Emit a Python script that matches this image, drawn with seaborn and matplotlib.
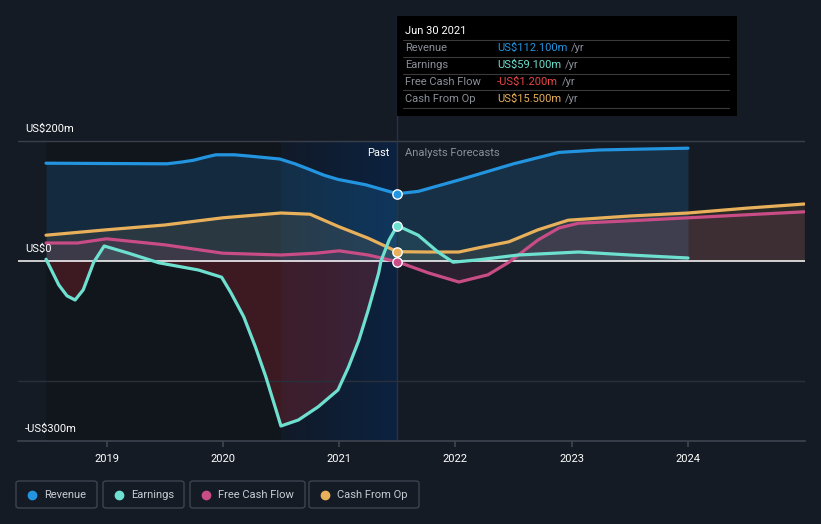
import numpy as np
import pandas as pd
import seaborn as sns
import matplotlib.pyplot as plt
from matplotlib.patches import Rectangle, FancyBboxPatch
from matplotlib.colors import LinearSegmentedColormap

# ---------------- data (values in US$m, x in decimal years) ----------------
rev_x = [2018.48, 2019.0, 2019.52, 2019.65, 2019.75, 2019.85, 2019.94, 2020.1, 2020.22, 2020.49,
         2020.62, 2020.74, 2020.87, 2020.99, 2021.23, 2021.5,
         2021.68, 2022.03, 2022.5, 2022.89, 2023.23, 2023.6, 2024.0]
rev_y = [163, 162.5, 162, 165, 168, 173, 177, 177, 175, 170,
         162, 153, 143, 136, 127, 112.1,
         116, 135, 162, 181, 185, 186.5, 188]

earn_x = [2018.48, 2018.59, 2018.66, 2018.73, 2018.80, 2018.89, 2018.98, 2019.19, 2019.45, 2019.79,
          2019.99, 2020.07, 2020.18, 2020.28, 2020.37, 2020.44, 2020.50, 2020.65, 2020.82,
          2020.99, 2021.08, 2021.17, 2021.25, 2021.34, 2021.36, 2021.43, 2021.5,
          2021.68, 2021.85, 2021.98, 2022.20, 2022.54, 2023.06, 2023.5, 2024.0]
earn_y = [3, -40, -58, -65, -48, -2, 25, 13, -3, -15,
          -27, -53, -93, -143, -193, -237, -275, -265, -243,
          -215, -177, -132, -82, -20, 0, 35, 59.1,
          43, 15, -2, 2, 10, 15, 10, 5]

fcf_x = [2018.48, 2018.75, 2019.0, 2019.5, 2020.0, 2020.5, 2020.8, 2021.0, 2021.25, 2021.5,
         2021.77, 2022.03, 2022.28, 2022.46, 2022.71, 2022.89, 2023.06, 2023.5, 2024.0, 2024.5, 2025.0]
fcf_y = [30, 30, 37, 27, 13, 10, 13, 17, 10, -1.2,
         -20, -35, -23, -2, 35, 55, 63, 67, 72, 77, 82]

cfo_x = [2018.48, 2019.0, 2019.5, 2020.0, 2020.5, 2020.75, 2021.0, 2021.25, 2021.5,
         2021.75, 2022.03, 2022.20, 2022.46, 2022.71, 2022.97, 2023.5, 2024.0, 2024.5, 2025.0]
cfo_y = [43, 52, 60, 72, 80, 78, 57, 38, 15.5,
         15, 15, 22, 32, 52, 68, 75, 80, 88, 95]

year_ticks = [2019, 2020, 2021, 2022, 2023, 2024]
y_labels = {200: "US$200m", 0: "US$0", -300: "-US$300m"}
legend_names = ["Revenue", "Earnings", "Free Cash Flow", "Cash From Op"]
tooltip_date = "Jun 30 2021"
tooltip_vals = ["US$112.100m", "US$59.100m", "-US$1.200m", "US$15.500m"]

# ---------------- style ----------------
C_REV, C_EARN, C_FCF, C_CFO = "#2394df", "#6ee0d0", "#c84c85", "#e8b05a"
BG = "#151b24"
W, H = 821, 524

sns.set_theme(style="dark")
plt.rcParams['font.family'] = ['Roboto', 'DejaVu Sans']

fig = plt.figure(figsize=(W / 100, H / 100), dpi=100, facecolor=BG)
ax = fig.add_axes([18 / W, (H - 441) / H, (805 - 18) / W, (441 - 120) / H])
ax.set_facecolor(BG)
PPY = 116.3
x0 = 2019 - 88.5 / PPY
x1 = 2019 + 698.5 / PPY
ax.set_xlim(x0, x1)
ax.set_ylim(-300, 235)

now = 2021.5
# darker past background and highlighted last year
ax.add_patch(Rectangle((rev_x[0], -300), now - rev_x[0], 500, color="#11151c", zorder=0, lw=0))
grad = np.linspace(0, 1, 256).reshape(1, -1)
cm = LinearSegmentedColormap.from_list("g", ["#111a28", "#0c2240"])
ax.imshow(grad, extent=[2020.5, now, -300, 200], aspect="auto", cmap=cm, zorder=0.5)

# fills
ax.fill_between(rev_x, rev_y, 0, color=C_REV, alpha=0.18, lw=0, zorder=1)
ax.fill_between(cfo_x, cfo_y, 0, color=C_CFO, alpha=0.10, lw=0, zorder=1)
ax.fill_between(fcf_x, fcf_y, 0, color=C_FCF, alpha=0.12, lw=0, zorder=1)
ex = np.array(earn_x); ey = np.array(earn_y)
ax.fill_between(ex, ey, 0, where=ey < 0, interpolate=True, color="#b02a35", alpha=0.28, lw=0, zorder=1)
ax.fill_between(ex, ey, 0, where=ey >= 0, interpolate=True, color=C_EARN, alpha=0.10, lw=0, zorder=1)

# grid lines
ax.axhline(200, color="#3a404b", lw=1, zorder=1.5)
ax.axhline(-200, color="#2a303a", lw=1, zorder=1.5)
ax.axhline(0, color="#ffffff", lw=1.1, zorder=2)

# lines
for xs, ys, c in [(rev_x, rev_y, C_REV), (cfo_x, cfo_y, C_CFO),
                  (fcf_x, fcf_y, C_FCF), (earn_x, earn_y, C_EARN)]:
    df = pd.DataFrame({"x": xs, "y": ys})
    sns.lineplot(data=df, x="x", y="y", ax=ax, color=c, lw=2.3, zorder=3, estimator=None)

# current marker line and dots
ax.plot([now, now], [-300, (261 - 16) / 0.6], color="#26344a", lw=1, clip_on=False, zorder=2.5)
for xs, ys, c in [(rev_x, rev_y, C_REV), (earn_x, earn_y, C_EARN),
                  (cfo_x, cfo_y, C_CFO), (fcf_x, fcf_y, C_FCF)]:
    i = xs.index(now)
    ax.scatter([now], [ys[i]], s=45, color=c, edgecolor="white", linewidth=1, zorder=5)

# axes cosmetics
for s in ["top", "right", "left"]:
    ax.spines[s].set_visible(False)
ax.spines["bottom"].set_color("#3e4450")
ax.spines["bottom"].set_linewidth(1.2)
ax.set_xticks(year_ticks)
ax.set_xticklabels([str(t) for t in year_ticks], color="white", fontsize=8)
ax.tick_params(axis="x", length=4, color="#3e4450", pad=5, bottom=True)
ax.set_yticks([])
ax.set_xlabel(""); ax.set_ylabel("")
ax.grid(False)

for v, lab in y_labels.items():
    ax.text(x0 + 7 / PPY, v + 12 / 0.6, lab, color="white", fontsize=8, va="center", ha="left")

ax.text(now - 8 / PPY, (261 - 153) / 0.6, "Past", color="white", fontsize=8, ha="right", va="center", zorder=6)
ax.text(now + 8 / PPY, (261 - 153) / 0.6, "Analysts Forecasts", color="#8a8f98", fontsize=8, ha="left", va="center", zorder=6)

# tooltip
def fx(p): return p / W
def fy(p): return 1 - p / H

fig.patches.append(Rectangle((fx(397), fy(116)), fx(737 - 397), (116 - 16) / H, transform=fig.transFigure,
                             facecolor="black", edgecolor="none", zorder=10))
fig.text(fx(405), fy(31), tooltip_date, color="white", fontsize=8, va="center", zorder=11)
tcols = [C_REV, C_EARN, "#e84545", C_CFO]
fig.canvas.draw()
r = fig.canvas.get_renderer()
for k, (nm, val, c) in enumerate(zip(legend_names, tooltip_vals, tcols)):
    yy = 48 + 17 * k
    fig.add_artist(plt.Line2D([fx(403), fx(729)], [fy(yy - 8.5), fy(yy - 8.5)], transform=fig.transFigure,
                              color="#3a3a3a", lw=0.8, zorder=11))
    fig.text(fx(405), fy(yy), nm, color="#8a8f98", fontsize=8, va="center", zorder=11)
    t = fig.text(fx(497), fy(yy), val, color=c, fontsize=8, va="center", zorder=11)
    bb = t.get_window_extent(renderer=r)
    fig.text(fx(bb.x1 + 4), fy(yy), "/yr", color="#8a8f98", fontsize=8, va="center", zorder=11)
fig.add_artist(plt.Line2D([fx(403), fx(729)], [fy(48 + 17 * 4 - 8.5)] * 2, transform=fig.transFigure,
                          color="#3a3a3a", lw=0.8, zorder=11))

# legend boxes
boxes = [(16, 97), (103, 184), (190, 305), (309, 419)]
for (bx0, bx1), nm, c in zip(boxes, legend_names, [C_REV, C_EARN, C_FCF, C_CFO]):
    fig.patches.append(FancyBboxPatch((fx(bx0), fy(508)), fx(bx1 - bx0), (508 - 481) / H,
                                      boxstyle="round,pad=0,rounding_size=0.004", transform=fig.transFigure,
                                      facecolor=BG, edgecolor="#3e4450", lw=1))
    fig.add_artist(plt.Line2D([fx(bx0 + 16)], [fy(494.5)], marker="o", ms=6, color=c, transform=fig.transFigure))
    fig.text(fx(bx0 + 28), fy(494.5), nm, color="#c8ccd2", fontsize=8, va="center")

fig.savefig("out.png", dpi=100, facecolor=BG)
